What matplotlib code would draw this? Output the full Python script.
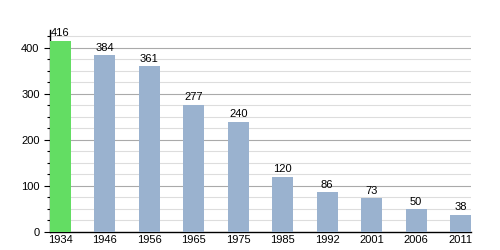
import matplotlib
matplotlib.use("Agg")
import matplotlib.pyplot as plt
from matplotlib.ticker import MultipleLocator

plt.rcParams["font.family"] = ["Liberation Sans", "DejaVu Sans"]

years = ["1934", "1946", "1956", "1965", "1975", "1985", "1992", "2001", "2006", "2011"]
population = [416, 384, 361, 277, 240, 120, 86, 73, 50, 38]
colors = ["#63dd63"] + ["#9ab2cf"] * 9

fig = plt.figure(figsize=(5, 2.5), dpi=100)
ax = fig.add_axes([0.1, 0.072, 0.842, 0.81])

x = range(len(years))
ax.bar(x, population, width=0.47, color=colors, zorder=3)
for xi, v in zip(x, population):
    ax.text(xi, v + 5, str(v), ha="center", va="bottom", fontsize=8, zorder=4)

ax.set_xlim(-0.235, len(years) - 1 + 0.235)
ax.set_ylim(0, 440)
ax.set_xticks(list(x))
ax.set_xticklabels(years, fontsize=8)
ax.yaxis.set_major_locator(MultipleLocator(100))
ax.yaxis.set_minor_locator(MultipleLocator(25))
ax.tick_params(axis="y", labelsize=8, length=4, width=0.8)
ax.tick_params(axis="y", which="minor", length=2.5, width=0.8)
ax.tick_params(axis="x", length=0, pad=2)

for y in range(25, 426, 25):
    ax.axhline(y, color="#aaaaaa" if y % 100 == 0 else "#dddddd", lw=0.8, zorder=1)

ax.spines["top"].set_visible(False)
ax.spines["right"].set_visible(False)
ax.spines["left"].set_linewidth(1)
ax.spines["bottom"].set_linewidth(1)

fig.savefig("out.png", dpi=100)
